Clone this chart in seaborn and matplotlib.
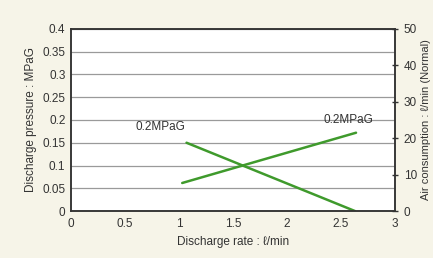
import matplotlib
matplotlib.use('Agg')
import matplotlib.pyplot as plt
import seaborn as sns
import pandas as pd

# Values
pressure_rate = [1.07, 2.63]     # l/min
pressure = [0.15, 0.0]           # MPaG
air_rate = [1.03, 2.64]          # l/min
air_consumption = [7.7, 21.5]    # l/min (Normal)

x_ticks = [0, 0.5, 1, 1.5, 2, 2.5, 3]
left_ticks = [0, 0.05, 0.1, 0.15, 0.2, 0.25, 0.3, 0.35, 0.4]
right_ticks = [0, 10, 20, 30, 40, 50]

sns.set_theme(style='white')
plt.rcParams['font.family'] = ['Liberation Sans', 'DejaVu Sans']

bg = '#f6f4e8'
green = '#3f9a2c'

fig = plt.figure(figsize=(4.33, 2.58), dpi=100, facecolor=bg)
ax1 = fig.add_axes([0.164, 0.182, 0.748, 0.706])
ax2 = ax1.twinx()

df_p = pd.DataFrame({'rate': pressure_rate, 'value': pressure})
df_a = pd.DataFrame({'rate': air_rate, 'value': air_consumption})

sns.lineplot(data=df_p, x='rate', y='value', ax=ax1, color=green, lw=1.8)
sns.lineplot(data=df_a, x='rate', y='value', ax=ax2, color=green, lw=1.8)

ax1.set_xlim(0, 3)
ax1.set_ylim(0, 0.4)
ax2.set_ylim(0, 50)

ax1.set_xticks(x_ticks)
ax1.set_xticklabels([f'{t:g}' for t in x_ticks])
ax1.set_yticks(left_ticks)
ax1.set_yticklabels([f'{t:g}' for t in left_ticks])
ax2.set_yticks(right_ticks)
ax2.set_yticklabels([str(t) for t in right_ticks])

ax1.grid(axis='y', color='#9a9a9a', lw=0.9)
ax1.set_axisbelow(True)
ax1.set_facecolor('white')

ax1.tick_params(axis='x', direction='in', length=3, width=1, color='#333333',
                labelsize=8.5, labelcolor='#333333', pad=5)
ax1.tick_params(axis='y', length=0, labelsize=8.5, labelcolor='#333333', pad=4)
ax2.tick_params(axis='y', direction='inout', length=5, width=1, color='#333333',
                labelsize=8.5, labelcolor='#333333', pad=4)

for ax in (ax1, ax2):
    for s in ax.spines.values():
        s.set_color('#333333')
        s.set_linewidth(1.1)

ax1.set_xlabel('Discharge rate : \u2113/min', fontsize=8.5, color='#333333', labelpad=4)
ax1.set_ylabel('Discharge pressure : MPaG', fontsize=8.5, color='#333333', labelpad=4)
ax2.set_ylabel('Air consumption : \u2113/min (Normal)', fontsize=8, color='#333333', labelpad=3)

ax1.text(0.83, 0.185, '0.2MPaG', fontsize=8.5, color='#333333', va='center', ha='center')
ax1.text(2.57, 0.2, '0.2MPaG', fontsize=8.5, color='#333333', va='center', ha='center')

fig.savefig('out.png', dpi=100, facecolor=bg)
